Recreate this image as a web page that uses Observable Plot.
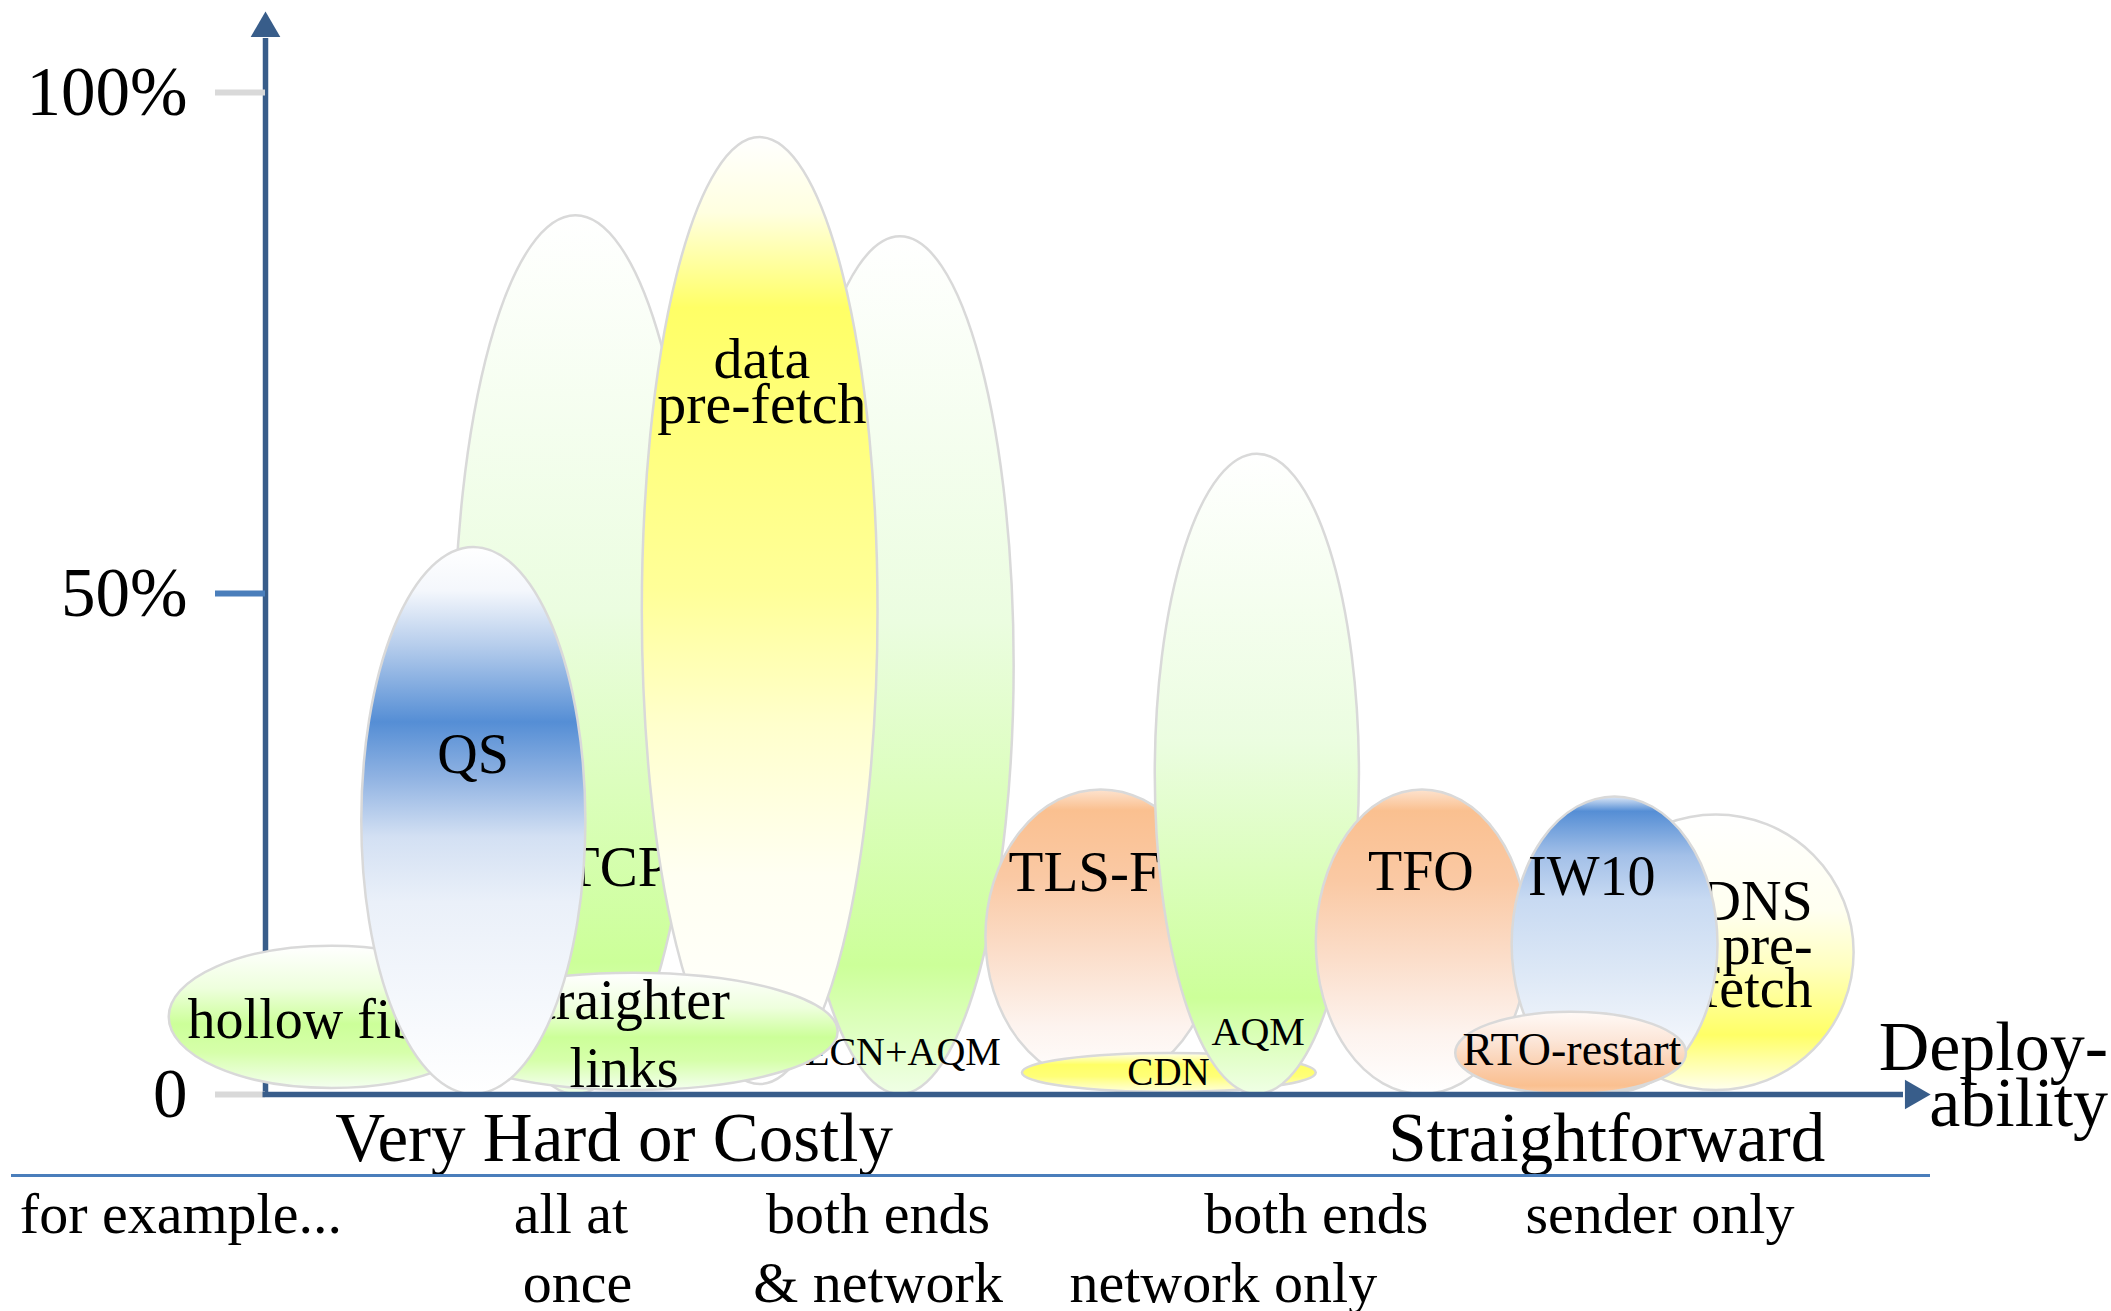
<!DOCTYPE html>
<html>
<head>
<meta charset="utf-8">
<script src="https://cdn.jsdelivr.net/npm/d3@7"></script>
<script src="https://cdn.jsdelivr.net/npm/@observablehq/plot@0.6"></script>
<style>
  html, body { margin: 0; padding: 0; background: #ffffff; overflow: hidden; }
</style>
</head>
<body>
<div id="chart"></div>
<script>
// ---------------- data (deployability units 0..100, latency gain in %) ----------------
const techniques  = ["MPTCP", "ECN+AQM", "data\npre-fetch", "hollow fibre", "straighter\nlinks", "QS",
                     "TLS-FS", "CDN", "AQM", "TFO", "DNS\npre-\nfetch", "IW10", "RTO-restart"];
const deployFrom  = [11.4, 31.4, 22.7, -5.8,  9.9,  5.8, 43.4, 45.6, 53.6, 63.3, 79.1, 75.1, 71.7];
const deployTo    = [26.0, 45.1, 36.9, 13.8, 34.5, 19.3, 57.3, 63.3, 65.9, 76.1, 95.7, 87.5, 85.6];
const gainLow     = [0,    0,    1.0,  0.6,  0.4,  0,    1.0,  0.2,  0,    0,    0.4,  0.2,  0];
const gainHigh    = [87.7, 85.6, 95.5, 14.8, 12.1, 54.6, 30.4, 4.1,  63.9, 30.4, 27.9, 29.7, 8.2];
const labelDeploy = [18.7, 38.4, 29.9, 3.6,  21.6, 12.5, 50.3, 54.4, 59.8, 69.6, 93.2, 79.9, 78.7];
const labelGain   = [20.8, 2.9,  67.0, 5.6,  0.7,  32.1, 20.3, 0.9,  4.9,  20.4, 8.7,  19.9, 2.9];

const yTicks      = [0, 50, 100];
const yTickLabels = ["0", "50%", "100%"];

const deployEnds   = ["Very Hard or Costly", "Straightforward"];
const deployEndsAt = [21.0, 80.8];
const axisTitle    = "Deploy-\nability";
const axisTitleAt  = 111.0;

const examples    = ["for example...", "all at", "once", "both ends", "& network", "both ends", "network only", "sender only"];
const examplesAt  = [-14.8, 18.4, 18.8, 36.9, 36.9, 63.3, 57.7, 84.0];
const examplesRow = [1, 1, 2, 1, 2, 1, 2, 1];

// ---------------- styles ----------------
const AXIS = "#385d8a";
const RULE = "#4a7ebb";
const FONT = "'Liberation Serif', 'Times New Roman', serif";

const greenTall  = [[0,"#ffffff"],[0.45,"#ebfde0"],[0.85,"#ccff99"],[1,"#f0ffe6"]];
const greenShort = [[0,"#ffffff"],[0.3,"#eeffdd"],[0.55,"#ccff99"],[0.75,"#d6ffaa"],[1,"#f4fff0"]];
const orangeTop  = [[0,"#fde3cf"],[0.07,"#fac090"],[0.3,"#fac9a4"],[0.55,"#fbddc9"],[0.8,"#fdf3ee"],[1,"#ffffff"]];
const shading = {
  "MPTCP": greenTall,
  "ECN+AQM": greenTall,
  "data\npre-fetch": [[0,"#ffffff"],[0.08,"#ffffe0"],[0.18,"#ffff66"],[0.33,"#ffff80"],[0.48,"#ffff99"],[0.62,"#ffffcc"],[0.78,"#fffff2"],[1,"#ffffff"]],
  "hollow fibre": greenShort,
  "straighter\nlinks": greenShort,
  "QS": [[0,"#ffffff"],[0.08,"#f4f7fc"],[0.18,"#b6cdec"],[0.32,"#558ed5"],[0.42,"#8fb2e2"],[0.53,"#d3e0f3"],[0.65,"#eaf0f9"],[1,"#ffffff"]],
  "TLS-FS": orangeTop,
  "CDN": [[0,"#ffffee"],[0.3,"#ffff66"],[0.6,"#ffff77"],[1,"#ffffdd"]],
  "AQM": greenTall,
  "TFO": orangeTop,
  "DNS\npre-\nfetch": [[0,"#ffffff"],[0.35,"#fffff0"],[0.55,"#ffffc0"],[0.8,"#ffff66"],[1,"#ffffee"]],
  "IW10": [[0,"#dfe9f7"],[0.05,"#558ed5"],[0.2,"#a3c0e8"],[0.35,"#c8daf2"],[0.6,"#dde8f6"],[0.85,"#f4f7fc"],[1,"#ffffff"]],
  "RTO-restart": [[0,"#fffaf7"],[0.35,"#fce6d8"],[0.75,"#fac8a2"],[0.9,"#fac090"],[1,"#fbd0ae"]]
};
const labelStyle = {
  "MPTCP": {size: 57}, "ECN+AQM": {size: 40}, "data\npre-fetch": {size: 58, lh: 0.78},
  "hollow fibre": {size: 56}, "straighter\nlinks": {size: 56, lh: 1.23}, "QS": {size: 56},
  "TLS-FS": {size: 57}, "CDN": {size: 39}, "AQM": {size: 40}, "TFO": {size: 56},
  "DNS\npre-\nfetch": {size: 56, lh: 0.78, anchor: "end"}, "IW10": {size: 56}, "RTO-restart": {size: 46}
};

// ---------------- build ----------------
const bubbles = techniques.map((name, i) => ({
  name, i, x1: deployFrom[i], x2: deployTo[i], y1: gainLow[i], y2: gainHigh[i],
  lx: labelDeploy[i], ly: labelGain[i]
}));

const marks = [];

// vertical axis line + arrow (behind the bubbles)
marks.push(Plot.ruleX([0], {x: d => d, stroke: AXIS, strokeWidth: 5.5, insetTop: -54}));
marks.push(Plot.dot([0], {x: d => d, frameAnchor: "top", dy: -64, symbol: "triangle", r: 11, fill: AXIS}));

// y ticks and labels
const fmt = d => yTickLabels[yTicks.indexOf(d)];
marks.push(Plot.axisY(yTicks.filter(d => d !== 50), {tickSize: 50, tickPadding: 28, stroke: "#d9d9d9", strokeWidth: 6,
  tickFormat: fmt, fontSize: 69, fill: "#000", label: null, fontFamily: FONT}));
marks.push(Plot.axisY(yTicks.filter(d => d === 50), {tickSize: 50, tickPadding: 28, stroke: RULE, strokeWidth: 6,
  tickFormat: fmt, fontSize: 69, fill: "#000", label: null, fontFamily: FONT}));

// bubbles (ellipses) with their labels, in stacking order
bubbles.forEach(b => {
  const st = labelStyle[b.name];
  marks.push(Plot.rect([b], {x1: "x1", x2: "x2", y1: "y1", y2: "y2", rx: 5000, ry: 5000,
    fill: `url(#bubbleGrad${b.i})`, stroke: "#d9d9d9", strokeWidth: 2.5}));
  marks.push(Plot.text([b], {x: "lx", y: "ly", text: "name", fontSize: st.size, lineAnchor: "bottom",
    lineHeight: st.lh || 1, textAnchor: st.anchor || "middle", fill: "#000", fontFamily: FONT}));
});

// horizontal axis line + arrow
marks.push(Plot.ruleY([0], {y: d => d, stroke: AXIS, strokeWidth: 5.5, insetRight: 22, insetLeft: -2.5}));
marks.push(Plot.dot([0], {y: d => d, frameAnchor: "right", dx: -12, rotate: 90, symbol: "triangle", r: 11, fill: AXIS}));

// axis end annotations
marks.push(Plot.text(deployEnds, {x: (d, i) => deployEndsAt[i], text: d => d, frameAnchor: "bottom", dy: 66,
  lineAnchor: "bottom", fontSize: 69, fill: "#000", fontFamily: FONT}));
marks.push(Plot.text([axisTitle], {x: () => axisTitleAt, text: d => d, frameAnchor: "bottom", dy: 31,
  lineAnchor: "bottom", textAnchor: "end", lineHeight: 0.79, fontSize: 70, fill: "#000", fontFamily: FONT}));

// separator line
marks.push(Plot.ruleY([0], {y: d => d, dy: 81, stroke: RULE, strokeWidth: 3, insetLeft: -254, insetRight: -5}));

// "for example..." rows
const ex = examples.map((t, i) => ({t, x: examplesAt[i], row: examplesRow[i], i}));
marks.push(Plot.text(ex.filter(d => d.i === 0), {x: "x", text: "t", frameAnchor: "bottom", dy: 138,
  lineAnchor: "bottom", textAnchor: "start", fontSize: 58, fill: "#000", fontFamily: FONT}));
marks.push(Plot.text(ex.filter(d => d.i > 0 && d.row === 1), {x: "x", text: "t", frameAnchor: "bottom", dy: 138,
  lineAnchor: "bottom", textAnchor: "middle", fontSize: 58, fill: "#000", fontFamily: FONT}));
marks.push(Plot.text(ex.filter(d => d.row === 2), {x: "x", text: "t", frameAnchor: "bottom", dy: 207,
  lineAnchor: "bottom", textAnchor: "middle", fontSize: 58, fill: "#000", fontFamily: FONT}));

const chart = Plot.plot({
  width: 2111,
  height: 1311,
  marginLeft: 265,
  marginRight: 186,
  marginTop: 92,
  marginBottom: 217,
  style: {fontFamily: FONT, background: "#ffffff", overflow: "visible"},
  x: {domain: [0, 100], axis: null},
  y: {domain: [0, 100], axis: null},
  marks
});

// gradient definitions for the bubbles
const defs = d3.select(chart).insert("defs", ":first-child");
bubbles.forEach(b => {
  const g = defs.append("linearGradient").attr("id", `bubbleGrad${b.i}`)
    .attr("x1", 0).attr("y1", 0).attr("x2", 0).attr("y2", 1);
  shading[b.name].forEach(([o, c]) => g.append("stop").attr("offset", o).attr("stop-color", c));
});

document.getElementById("chart").appendChild(chart);
</script>
</body>
</html>
